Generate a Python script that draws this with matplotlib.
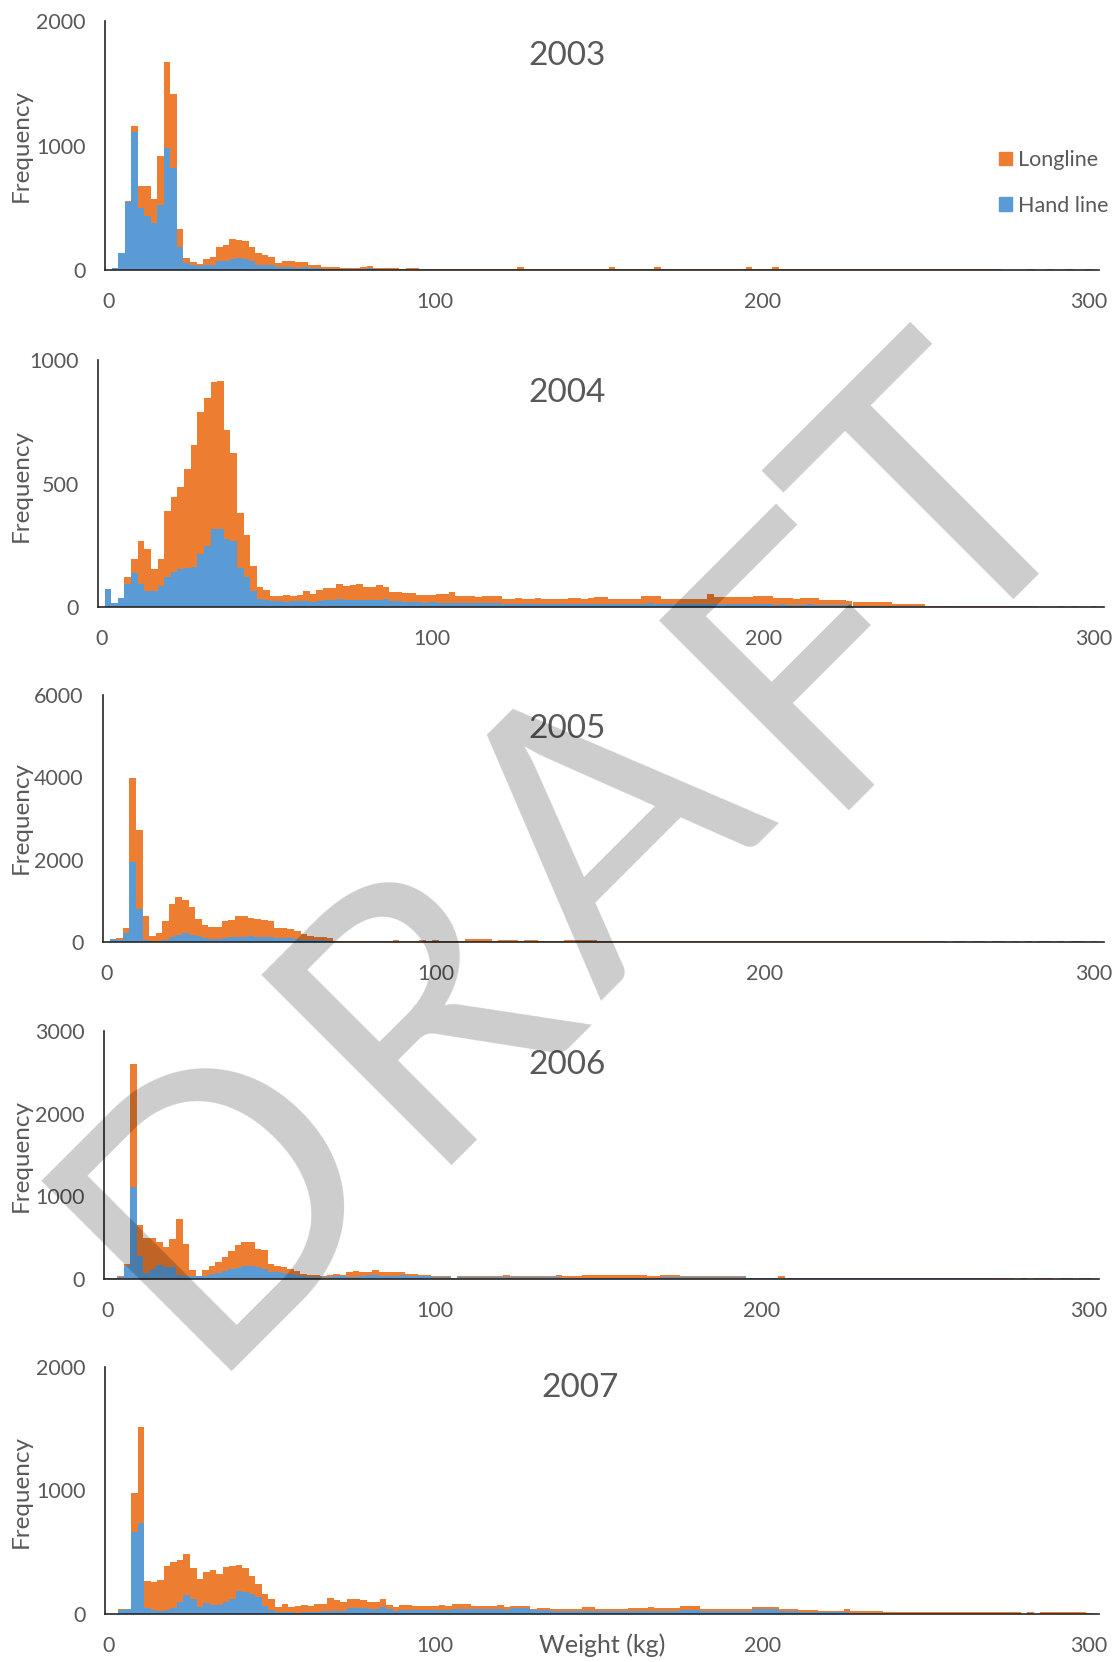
import matplotlib.pyplot as plt
from matplotlib.patches import Patch

plt.rcParams['font.family'] = ['Lato', 'DejaVu Sans']

# 2 kg weight classes, labelled by lower bound
weight_bins = list(range(0, 301, 2))

years = ['2003', '2004', '2005', '2006', '2007']

hand_2003 = [
    0, 13, 135, 548, 1107, 500, 437, 378, 521, 980,
    818, 181, 54, 40, 35, 40, 40, 73, 73, 86,
    97, 86, 73, 40, 40, 40, 27, 27, 27, 13,
    22, 13, 13, 11, 11, 8, 8, 8, 5, 11,
    13, 11, 5, 3, 3, 3, 3, 2, 3, 2,
    2, 1, 2, 1, 1, 2, 1, 1, 2, 1,
    1, 1, 1, 4, 1, 1, 0, 1, 0, 1,
    0, 1, 0, 0, 1, 0, 0, 3, 0, 0,
    0, 0, 1, 0, 2, 0, 0, 0, 0, 0,
    0, 0, 0, 0, 0, 0, 0, 0, 2, 0,
    0, 0, 2, 0, 0, 0, 0, 0, 0, 0,
    0, 0, 0, 0, 0, 0, 0, 0, 0, 0,
    0, 0, 0, 0, 0, 0, 0, 0, 0, 0,
    0, 0, 0, 0, 0, 0, 0, 0, 0, 0,
    0, 0, 0, 0, 0, 0, 0, 0, 0, 0,
    0]
long_2003 = [
    0, 0, 0, 5, 48, 175, 238, 194, 397, 688,
    599, 151, 40, 27, 14, 46, 63, 113, 124, 165,
    146, 143, 113, 95, 84, 63, 32, 46, 46, 49,
    40, 27, 27, 16, 16, 14, 11, 11, 8, 11,
    19, 8, 9, 10, 11, 9, 10, 12, 9, 10,
    9, 10, 9, 11, 10, 9, 10, 11, 9, 10,
    9, 10, 9, 22, 10, 9, 10, 9, 10, 11,
    9, 10, 9, 10, 9, 10, 11, 22, 10, 9,
    10, 9, 10, 9, 22, 10, 9, 10, 9, 10,
    11, 9, 10, 9, 10, 9, 10, 9, 22, 10,
    9, 10, 22, 9, 10, 9, 10, 11, 9, 10,
    9, 10, 9, 10, 9, 10, 9, 10, 9, 10,
    9, 10, 9, 10, 9, 10, 9, 10, 9, 10,
    9, 10, 9, 10, 9, 10, 9, 0, 0, 0,
    0, 10, 0, 0, 10, 0, 0, 10, 0, 0,
    10]

hand_2004 = [
    0, 73, 16, 37, 95, 137, 95, 64, 64, 84,
    121, 142, 152, 157, 163, 214, 245, 314, 314, 276,
    267, 157, 121, 64, 33, 27, 23, 23, 19, 23,
    23, 23, 19, 23, 27, 27, 33, 27, 27, 27,
    27, 27, 27, 33, 23, 23, 19, 19, 19, 18,
    19, 16, 17, 16, 16, 15, 16, 17, 16, 15,
    16, 12, 13, 12, 11, 12, 13, 12, 11, 12,
    12, 12, 13, 12, 11, 12, 14, 12, 12, 11,
    12, 13, 14, 15, 14, 12, 13, 12, 11, 12,
    12, 13, 14, 12, 12, 11, 12, 13, 12, 12,
    14, 14, 10, 11, 10, 9, 10, 11, 10, 9,
    8, 8, 7, 8, 6, 6, 6, 5, 5, 5,
    4, 4, 4, 4, 4, 2, 2, 2, 3, 2,
    2, 2, 2, 2, 2, 2, 2, 2, 3, 2,
    4, 2, 0, 0, 0, 4, 0, 4, 0, 0,
    0]
long_2004 = [
    0, 0, 0, 0, 26, 58, 173, 172, 88, 111,
    267, 302, 334, 403, 491, 576, 602, 597, 601, 439,
    355, 225, 172, 104, 47, 43, 20, 20, 28, 20,
    24, 41, 34, 46, 48, 48, 62, 60, 64, 68,
    53, 53, 62, 47, 37, 37, 38, 38, 30, 31,
    30, 35, 34, 44, 27, 28, 28, 25, 27, 28,
    28, 22, 20, 23, 20, 21, 23, 21, 20, 22,
    22, 23, 23, 22, 24, 29, 27, 22, 21, 22,
    21, 20, 29, 29, 29, 21, 21, 20, 22, 21,
    21, 21, 37, 29, 30, 29, 29, 29, 29, 34,
    32, 32, 25, 25, 25, 25, 25, 25, 25, 18,
    19, 19, 20, 18, 16, 16, 16, 14, 14, 14,
    10, 10, 10, 10, 10, 3, 3, 3, 2, 3,
    3, 2, 3, 3, 2, 3, 3, 2, 0, 2,
    0, 2, 0, 0, 0, 0, 0, 0, 0, 0,
    4]

hand_2005 = [
    0, 73, 40, 219, 1935, 810, 57, 32, 32, 57,
    121, 178, 219, 170, 138, 89, 73, 73, 105, 121,
    121, 121, 154, 121, 121, 121, 105, 89, 89, 73,
    57, 57, 40, 40, 32, 5, 5, 4, 5, 6,
    5, 30, 3, 3, 30, 3, 3, 3, 30, 3,
    25, 3, 3, 3, 3, 30, 8, 8, 8, 3,
    6, 30, 6, 3, 30, 6, 2, 2, 2, 2,
    5, 25, 5, 25, 5, 2, 2, 2, 2, 2,
    2, 2, 2, 2, 2, 2, 2, 2, 2, 2,
    2, 2, 2, 2, 2, 2, 2, 2, 2, 2,
    2, 2, 2, 2, 2, 2, 2, 2, 2, 2,
    2, 2, 2, 2, 2, 2, 2, 2, 2, 2,
    2, 2, 2, 2, 2, 2, 20, 0, 0, 0,
    18, 0, 0, 0, 0, 18, 0, 0, 0, 0,
    18, 0, 0, 18, 0, 0, 0, 0, 18, 0,
    0]
long_2005 = [
    0, 0, 65, 129, 2049, 1903, 575, 122, 187, 445,
    810, 915, 793, 672, 421, 324, 299, 299, 397, 422,
    502, 502, 437, 438, 422, 381, 235, 251, 227, 186,
    145, 81, 81, 81, 57, 20, 20, 21, 20, 19,
    20, 5, 17, 17, 15, 17, 17, 17, 15, 17,
    15, 17, 17, 17, 17, 35, 57, 57, 57, 17,
    49, 25, 49, 17, 25, 49, 18, 18, 18, 18,
    40, 35, 40, 35, 40, 18, 17, 19, 18, 17,
    18, 17, 19, 18, 17, 18, 17, 19, 18, 17,
    18, 17, 19, 18, 17, 18, 17, 19, 18, 17,
    18, 17, 19, 18, 17, 18, 17, 19, 18, 17,
    18, 17, 19, 18, 17, 18, 17, 19, 18, 17,
    18, 17, 19, 18, 17, 18, 0, 17, 0, 17,
    0, 0, 17, 17, 0, 0, 17, 0, 17, 0,
    0, 0, 17, 0, 0, 17, 0, 17, 0, 0,
    17]

hand_2006 = [
    12, 12, 24, 157, 1117, 278, 69, 117, 169, 141,
    141, 48, 40, 36, 32, 36, 60, 69, 93, 117,
    137, 157, 161, 141, 117, 89, 81, 69, 60, 48,
    36, 28, 28, 28, 28, 36, 36, 28, 28, 36,
    52, 52, 36, 36, 40, 52, 32, 32, 40, 40,
    24, 24, 24, 8, 20, 20, 22, 20, 20, 20,
    20, 20, 24, 20, 28, 20, 24, 20, 20, 24,
    16, 16, 16, 16, 16, 16, 16, 16, 16, 16,
    16, 16, 16, 16, 16, 20, 20, 20, 24, 20,
    24, 20, 24, 20, 24, 20, 24, 20, 8, 8,
    8, 8, 8, 8, 8, 8, 8, 8, 8, 8,
    8, 8, 8, 8, 8, 8, 8, 14, 8, 8,
    8, 14, 8, 8, 8, 8, 8, 8, 8, 14,
    8, 8, 8, 8, 8, 4, 4, 4, 4, 0,
    4, 0, 6, 6, 6, 0, 4, 4, 0, 6,
    4]
long_2006 = [
    0, 4, 12, 24, 1480, 375, 431, 375, 283, 246,
    339, 682, 379, 73, 4, 73, 97, 137, 169, 226,
    278, 287, 291, 226, 234, 88, 76, 80, 57, 53,
    24, 20, 16, 12, 16, 24, 16, 61, 69, 45,
    37, 57, 53, 53, 50, 28, 32, 32, 12, 12,
    12, 12, 12, 8, 16, 16, 16, 16, 16, 16,
    16, 32, 12, 18, 8, 16, 14, 16, 16, 28,
    20, 20, 20, 36, 36, 36, 36, 36, 36, 36,
    36, 36, 36, 20, 20, 32, 32, 32, 12, 16,
    12, 16, 12, 16, 12, 16, 12, 16, 10, 8,
    8, 8, 8, 28, 10, 10, 10, 10, 10, 10,
    10, 10, 10, 10, 10, 10, 10, 4, 10, 10,
    10, 4, 10, 10, 10, 10, 10, 10, 10, 4,
    10, 10, 10, 10, 10, 10, 10, 10, 10, 0,
    8, 0, 8, 8, 8, 0, 10, 10, 0, 4,
    6]

hand_2007 = [
    0, 0, 35, 40, 661, 734, 46, 35, 24, 35,
    46, 100, 154, 121, 59, 86, 76, 76, 94, 121,
    184, 175, 162, 135, 67, 35, 19, 19, 13, 8,
    13, 19, 19, 24, 24, 24, 24, 46, 46, 46,
    40, 40, 57, 40, 27, 35, 35, 32, 32, 32,
    32, 32, 32, 43, 43, 43, 38, 38, 38, 38,
    38, 30, 49, 49, 49, 32, 32, 32, 22, 22,
    22, 22, 22, 27, 27, 27, 27, 27, 22, 22,
    27, 27, 27, 27, 27, 27, 27, 27, 32, 32,
    32, 22, 22, 27, 27, 27, 27, 27, 22, 38,
    38, 38, 38, 22, 22, 22, 16, 16, 16, 14,
    14, 14, 14, 14, 11, 11, 11, 11, 11, 3,
    3, 3, 3, 3, 3, 3, 3, 3, 3, 3,
    3, 3, 3, 3, 3, 3, 3, 3, 3, 3,
    0, 3, 0, 3, 3, 3, 10, 3, 3, 3,
    3]
long_2007 = [
    0, 0, 5, 0, 319, 777, 219, 221, 251, 356,
    378, 335, 329, 249, 224, 251, 283, 251, 284, 268,
    213, 197, 143, 108, 95, 86, 40, 59, 46, 59,
    63, 48, 59, 54, 106, 87, 76, 73, 73, 65,
    60, 60, 64, 33, 32, 41, 41, 33, 33, 33,
    33, 44, 33, 38, 38, 38, 27, 27, 27, 27,
    38, 24, 16, 16, 13, 11, 19, 19, 16, 16,
    16, 16, 16, 27, 27, 16, 16, 16, 16, 16,
    22, 22, 22, 27, 22, 22, 22, 22, 33, 33,
    33, 16, 16, 16, 16, 16, 16, 16, 16, 16,
    16, 16, 16, 16, 16, 16, 16, 16, 16, 13,
    13, 13, 13, 24, 11, 11, 16, 16, 16, 11,
    11, 11, 11, 11, 11, 11, 11, 11, 11, 11,
    11, 11, 11, 11, 11, 11, 11, 11, 11, 11,
    0, 11, 0, 11, 11, 11, 3, 11, 11, 11,
    8]

hand_line = [hand_2003, hand_2004, hand_2005, hand_2006, hand_2007]
longline = [long_2003, long_2004, long_2005, long_2006, long_2007]
y_ticks = [[0, 1000, 2000], [0, 500, 1000], [0, 2000, 4000, 6000],
           [0, 1000, 2000, 3000], [0, 1000, 2000]]
x_ticks = [0, 100, 200, 300]

ORANGE = '#ED7D31'
BLUE = '#5B9BD5'
GREY = '#595959'
FS = 15.5

W, H = 1119, 1662
fig = plt.figure(figsize=(W / 100, H / 100), dpi=100)

# plot boxes in pixels: left, top, right, bottom
boxes = [(105, 21, 1099, 270), (98, 360, 1104, 607), (103, 695, 1104, 942),
         (104, 1031, 1099, 1279), (105, 1367, 1099, 1614)]
title_xy = [(567, 56), (567, 393), (567, 729), (567, 1065), (580, 1388)]
ylabel_y = [146, 485, 818, 1155, 1491]

for i, year in enumerate(years):
    l, t, r, b = boxes[i]
    ax = fig.add_axes([l / W, 1 - b / H, (r - l) / W, (b - t) / H])
    ax.bar(weight_bins, hand_line[i], width=2, color=BLUE, linewidth=0)
    ax.bar(weight_bins, longline[i], bottom=hand_line[i], width=2,
           color=ORANGE, linewidth=0)
    ax.set_xlim(-1, 303)
    ax.set_ylim(0, y_ticks[i][-1])
    ax.set_xticks(x_ticks)
    ax.set_yticks(y_ticks[i])
    ax.tick_params(length=0, labelsize=FS, colors=GREY)
    ax.tick_params(axis='y', pad=14)
    ax.tick_params(axis='x', pad=16)
    for s in ['top', 'right']:
        ax.spines[s].set_visible(False)
    ax.spines['left'].set_color('#262626')
    ax.spines['bottom'].set_color('#262626')
    ax.spines['left'].set_linewidth(1.2)
    ax.spines['bottom'].set_linewidth(1.2)

    tx, ty = title_xy[i]
    fig.text(tx / W, 1 - ty / H, year, ha='center', va='center',
             fontsize=24, color=GREY)
    fig.text(21 / W, 1 - ylabel_y[i] / H, 'Frequency', rotation=90,
             ha='center', va='center', fontsize=17.5, color=GREY)

    if i == 0:
        handles = [Patch(color=ORANGE, label='Longline'),
                   Patch(color=BLUE, label='Hand line')]
        fig.legend(handles=handles, loc='center left',
                   bbox_to_anchor=(999 / W, 1 - 183 / H), frameon=False,
                   fontsize=FS, labelcolor=GREY, handlelength=0.6,
                   handleheight=0.6, handletextpad=0.3, labelspacing=1.2,
                   borderpad=0, borderaxespad=0)

fig.text(602 / W, 1 - 1645 / H, 'Weight (kg)', ha='center', va='center',
         fontsize=18, color=GREY)

# watermark, one letter at a time
for ch, (cx, cy) in zip('DRAFT', [(223, 1195), (426, 1007), (616, 836),
                                  (815, 660), (950, 508)]):
    fig.text(cx / W, 1 - cy / H, ch, rotation=45, rotation_mode='anchor',
             ha='center', va='center', fontsize=270, color='black',
             alpha=0.2, zorder=10)

fig.savefig('out.png', dpi=100)
